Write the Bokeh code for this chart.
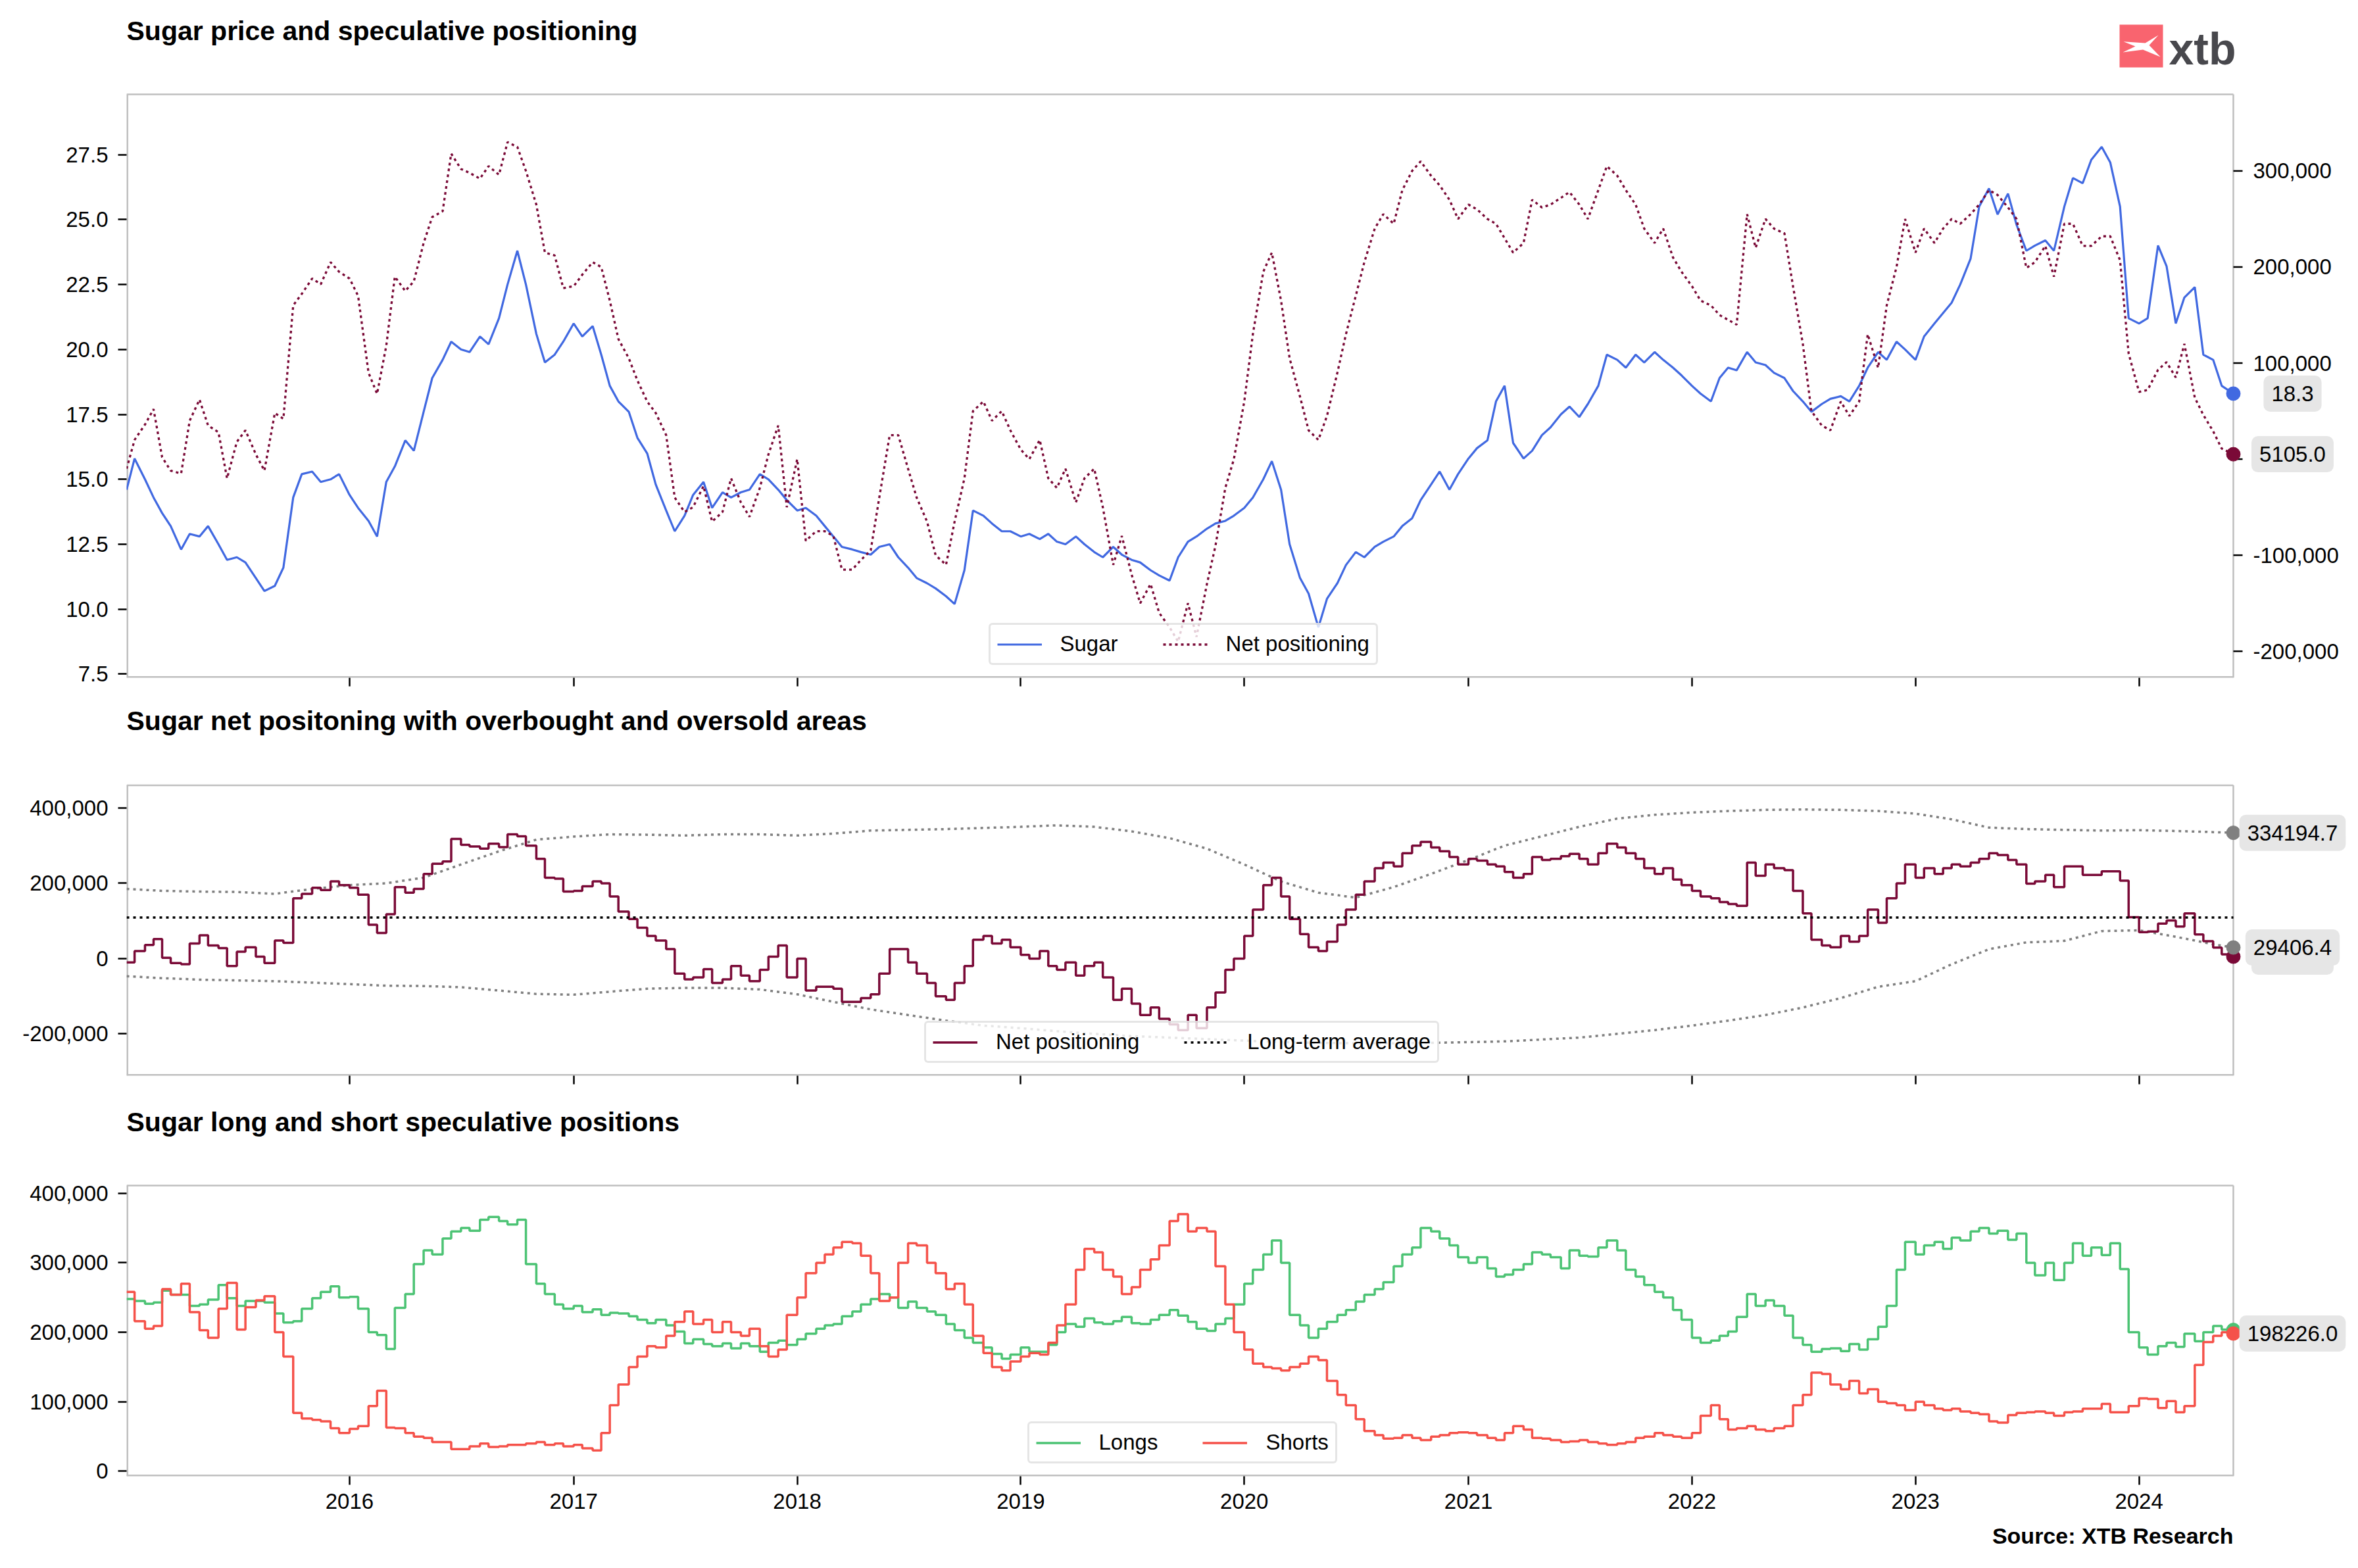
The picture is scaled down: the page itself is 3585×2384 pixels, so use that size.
import pandas as pd
from bokeh.plotting import figure
from bokeh.models import (Range1d, FixedTicker, NumeralTickFormatter, DatetimeTickFormatter,
                          Label, Title, ColumnDataSource, Legend, Rect)
from bokeh.layouts import column
from bokeh.embed import file_html
from bokeh.resources import INLINE
from bokeh.core.properties import value

# ---------------- data ----------------
# semi-monthly samples (1st and 15th of each month), last value = 2024-06-03
sugar_2015 = [14.6, 15.8, 15.0, 14.3, 13.7, 13.2, 12.3, 12.9, 12.8, 13.2, 12.5, 11.9, 12.0, 11.8, 11.2, 10.7, 10.9, 11.6, 14.3, 15.2, 15.3, 14.9, 15.0, 15.2]
sugar_2016 = [14.4, 13.9, 13.4, 12.8, 14.9, 15.5, 16.5, 16.1, 17.6, 18.9, 19.6, 20.3, 20.0, 19.9, 20.5, 20.2, 21.2, 22.5, 23.8, 22.5, 20.6, 19.5, 19.8, 20.3]
sugar_2017 = [21.0, 20.5, 20.9, 19.8, 18.6, 18.0, 17.6, 16.6, 16.0, 14.8, 13.8, 13.0, 13.6, 14.4, 14.9, 13.9, 14.5, 14.3, 14.5, 14.6, 15.2, 15.0, 14.6, 14.2]
sugar_2018 = [13.8, 13.9, 13.6, 13.2, 12.8, 12.4, 12.3, 12.2, 12.1, 12.4, 12.5, 12.0, 11.6, 11.2, 11.0, 10.8, 10.5, 10.2, 11.5, 13.8, 13.6, 13.3, 13.0, 13.0]
sugar_2019 = [12.8, 12.9, 12.7, 12.9, 12.6, 12.5, 12.8, 12.5, 12.2, 12.0, 12.4, 12.1, 11.9, 11.8, 11.5, 11.3, 11.1, 12.0, 12.6, 12.8, 13.1, 13.3, 13.4, 13.6]
sugar_2020 = [13.9, 14.3, 15.0, 15.7, 14.6, 12.5, 11.2, 10.6, 9.3, 10.4, 11.0, 11.7, 12.2, 12.0, 12.4, 12.6, 12.8, 13.2, 13.5, 14.2, 14.8, 15.3, 14.6, 15.2]
sugar_2021 = [15.8, 16.2, 16.5, 18.0, 18.6, 16.4, 15.8, 16.1, 16.7, 17.0, 17.5, 17.8, 17.4, 17.9, 18.6, 19.8, 19.6, 19.3, 19.8, 19.5, 19.9, 19.6, 19.3, 19.0]
sugar_2022 = [18.6, 18.3, 18.0, 18.9, 19.3, 19.2, 19.9, 19.5, 19.4, 19.1, 18.9, 18.4, 18.0, 17.6, 17.9, 18.1, 18.2, 18.0, 18.6, 19.3, 19.9, 19.6, 20.3, 20.0]
sugar_2023 = [19.6, 20.5, 21.0, 21.4, 21.8, 22.5, 23.5, 25.5, 26.2, 25.2, 26.0, 24.8, 23.8, 24.0, 24.2, 23.8, 25.5, 26.6, 26.4, 27.3, 27.8, 27.2, 25.5, 21.2]
sugar_2024 = [21.0, 21.2, 24.0, 23.2, 21.0, 22.0, 22.4, 19.8, 19.6, 18.6, 18.3]

net_k_2015 = [-10, 20, 36, 52, 2, -12, -15, 40, 62, 35, 28, -20, 18, 30, 5, -12, 48, 42, 160, 172, 188, 182, 205, 195]
net_k_2016 = [188, 170, 90, 68, 118, 190, 175, 185, 225, 252, 258, 318, 302, 298, 292, 305, 296, 330, 325, 300, 265, 215, 212, 178]
net_k_2017 = [180, 192, 205, 200, 165, 125, 105, 82, 60, 48, 25, -40, -55, -50, -28, -65, -55, -20, -45, -60, -30, 5, 35, -50]
net_k_2018 = [0, -85, -75, -75, -80, -115, -115, -105, -95, -40, 25, 25, -10, -40, -65, -100, -110, -65, -20, 50, 60, 40, 50, 30]
net_k_2019 = [10, 0, 20, -20, -30, -10, -45, -20, -10, -50, -110, -80, -120, -150, -130, -160, -175, -190, -150, -185, -130, -90, -30, 0]
net_k_2020 = [60, 130, 195, 215, 165, 105, 65, 30, 20, 45, 90, 130, 170, 205, 240, 255, 245, 280, 300, 310, 295, 285, 270, 250]
net_k_2021 = [265, 260, 250, 245, 230, 215, 225, 270, 262, 265, 272, 278, 265, 250, 280, 305, 295, 280, 265, 240, 225, 240, 210, 195]
net_k_2022 = [180, 165, 160, 150, 145, 140, 255, 220, 250, 240, 235, 180, 120, 50, 35, 30, 60, 45, 60, 130, 95, 160, 200, 250]
net_k_2023 = [215, 240, 225, 240, 250, 245, 255, 265, 280, 275, 262, 250, 199, 205, 222, 190, 245, 245, 222, 222, 232, 232, 207, 110]
net_k_2024 = [70, 72, 93, 101, 85, 120, 64, 46, 29, 11, 5.105]

longs_k_2015 = [248, 245, 241, 243, 260, 254, 254, 238, 240, 247, 268, 249, 238, 245, 245, 243, 227, 214, 216, 234, 249, 258, 266, 250]
longs_k_2016 = [251, 234, 200, 196, 176, 235, 255, 298, 318, 312, 335, 345, 350, 346, 362, 366, 360, 355, 362, 298, 270, 255, 240, 234]
longs_k_2017 = [238, 229, 233, 225, 228, 227, 223, 218, 213, 218, 210, 201, 184, 190, 183, 180, 184, 177, 184, 180, 172, 185, 188, 182]
longs_k_2018 = [190, 198, 205, 210, 212, 223, 230, 240, 248, 255, 250, 235, 244, 235, 230, 225, 212, 203, 192, 185, 178, 169, 162, 168]
longs_k_2019 = [178, 172, 172, 182, 200, 212, 208, 220, 214, 212, 216, 222, 213, 212, 218, 225, 232, 224, 215, 205, 202, 212, 220, 240]
longs_k_2020 = [270, 290, 312, 332, 300, 225, 210, 192, 205, 215, 225, 232, 244, 254, 262, 272, 295, 312, 322, 350, 345, 335, 325, 308]
longs_k_2021 = [300, 308, 292, 280, 283, 290, 298, 315, 312, 308, 292, 318, 310, 309, 322, 332, 318, 290, 280, 268, 258, 250, 232, 218]
longs_k_2022 = [192, 185, 188, 195, 201, 222, 255, 238, 246, 238, 224, 192, 182, 172, 176, 177, 173, 183, 175, 190, 208, 238, 290, 330]
longs_k_2023 = [312, 325, 330, 320, 336, 332, 345, 350, 342, 346, 333, 342, 300, 282, 300, 275, 300, 328, 310, 322, 311, 328, 291, 200]
longs_k_2024 = [178, 168, 180, 185, 179, 198, 187, 200, 209, 204, 203.331]

shorts_k_2015 = [258, 216, 205, 209, 262, 254, 270, 229, 203, 192, 234, 271, 204, 236, 246, 252, 200, 165, 84, 76, 74, 72, 62, 55]
shorts_k_2016 = [61, 65, 94, 116, 63, 62, 55, 50, 48, 42, 42, 32, 32, 36, 40, 35, 36, 38, 38, 40, 42, 38, 40, 36]
shorts_k_2017 = [38, 33, 30, 55, 95, 125, 150, 165, 180, 178, 195, 215, 230, 212, 218, 200, 215, 200, 195, 205, 180, 165, 175, 225]
shorts_k_2018 = [250, 285, 300, 312, 322, 330, 328, 310, 285, 245, 250, 300, 328, 325, 300, 285, 262, 270, 240, 195, 170, 150, 145, 158]
shorts_k_2019 = [165, 170, 168, 185, 210, 240, 290, 320, 315, 290, 280, 255, 265, 290, 305, 325, 360, 370, 345, 350, 345, 295, 240, 200]
shorts_k_2020 = [175, 155, 150, 148, 145, 150, 155, 165, 160, 130, 110, 95, 75, 58, 52, 47, 48, 52, 48, 45, 50, 52, 55, 56]
shorts_k_2021 = [55, 52, 48, 45, 55, 65, 60, 48, 47, 45, 42, 43, 45, 42, 40, 38, 40, 42, 48, 50, 55, 52, 50, 48]
shorts_k_2022 = [55, 80, 95, 75, 60, 62, 65, 60, 58, 62, 65, 95, 110, 142, 140, 125, 118, 130, 112, 118, 100, 98, 95, 88]
shorts_k_2023 = [100, 95, 90, 88, 90, 86, 84, 82, 72, 70, 81, 84, 85, 86, 84, 80, 85, 86, 90, 90, 97, 85, 85, 94]
shorts_k_2024 = [105, 104, 91, 101, 85, 94, 153, 186, 195, 200, 198.226]

# overbought / oversold bands: bimonthly samples (Jan, Mar, May, Jul, Sep, Nov), last = 2024-06-03
upper_k_by_year = [
    [185, 180, 178, 177, 172, 185],
    [195, 200, 215, 250, 285, 316],
    [324, 330, 329, 327, 330, 330],
    [327, 332, 340, 342, 344, 347],
    [350, 354, 350, 338, 320, 292],
    [250, 205, 175, 162, 190, 225],
    [262, 300, 325, 350, 372, 382],
    [388, 392, 395, 396, 395, 392],
    [385, 370, 348, 344, 342, 340],
    [341, 339, 336, 334.1947],
]
lower_k_by_year = [
    [-47, -52, -56, -58, -60, -64],
    [-68, -72, -73, -76, -85, -94],
    [-96, -88, -80, -78, -78, -82],
    [-95, -115, -135, -150, -165, -178],
    [-185, -193, -200, -206, -210, -214],
    [-218, -222, -224, -225, -225, -224],
    [-222, -220, -215, -210, -200, -190],
    [-178, -165, -150, -130, -105, -75],
    [-60, -15, 25, 43, 47, 73],
    [75, 58, 38, 29.4064],
]
long_term_average = 109000
year_ticks = [2016, 2017, 2018, 2019, 2020, 2021, 2022, 2023, 2024]
price_ticks = [7.5, 10, 12.5, 15, 17.5, 20, 22.5, 25, 27.5]
net_axis_ticks = [-200000, -100000, 0, 100000, 200000, 300000]
net_panel_ticks = [-200000, 0, 200000, 400000]
pos_ticks = [0, 100000, 200000, 300000, 400000]

titles = ["Sugar price and speculative positioning",
          "Sugar net positoning with overbought and oversold areas",
          "Sugar long and short speculative positions"]

# ---------------- assemble ----------------
X0 = pd.Timestamp("2015-01-02")
X1 = pd.Timestamp("2024-06-03")


def ms(t):
    return t.value / 1e6


dates = [X0]
for yy in range(2015, 2025):
    for mm in range(1, 13):
        for dd in (1, 15):
            t = pd.Timestamp(yy, mm, dd)
            if X0 < t <= pd.Timestamp("2024-05-15"):
                dates.append(t)
dates.append(X1)
date_ms = [ms(t) for t in dates]

band_dates = [X0]
for yy in range(2015, 2025):
    for mm in (1, 3, 5, 7, 9, 11):
        t = pd.Timestamp(yy, mm, 1)
        if X0 < t <= pd.Timestamp("2024-05-01"):
            band_dates.append(t)
band_dates.append(X1)
band_ms = [ms(t) for t in band_dates]

sugar = sugar_2015 + sugar_2016 + sugar_2017 + sugar_2018 + sugar_2019 + sugar_2020 + sugar_2021 + sugar_2022 + sugar_2023 + sugar_2024
net = [v * 1000 for v in net_k_2015 + net_k_2016 + net_k_2017 + net_k_2018 + net_k_2019 + net_k_2020 + net_k_2021 + net_k_2022 + net_k_2023 + net_k_2024]
longs = [v * 1000 for v in longs_k_2015 + longs_k_2016 + longs_k_2017 + longs_k_2018 + longs_k_2019 + longs_k_2020 + longs_k_2021 + longs_k_2022 + longs_k_2023 + longs_k_2024]
shorts = [v * 1000 for v in shorts_k_2015 + shorts_k_2016 + shorts_k_2017 + shorts_k_2018 + shorts_k_2019 + shorts_k_2020 + shorts_k_2021 + shorts_k_2022 + shorts_k_2023 + shorts_k_2024]
upper = [v * 1000 for row in upper_k_by_year for v in row]
lower = [v * 1000 for row in lower_k_by_year for v in row]

src = ColumnDataSource(data=dict(date=date_ms, sugar=sugar, net=net, longs=longs, shorts=shorts))
band_src = ColumnDataSource(data=dict(date=band_ms, upper=upper, lower=lower,
                                      avg=[long_term_average] * len(band_ms)))

# ---------------- geometry & styling ----------------
FONT = "Liberation Sans"
BLUE = "#4169E1"
MAROON = "#7A0A37"
GRAY = "#808080"
GREEN = "#4CC374"
RED = "#F5524A"
BOX = "#E6E6E6"
FRAME_C = "#BFBFBF"

TOTAL_W = 3577
FL = 192            # left edge of the visible axes box
VIS_W = 3203        # width of the visible axes box
FRAME_W = TOTAL_W - FL

x0, x1 = ms(X0), ms(X1)
x_span = x1 - x0
xr = Range1d(x0, x0 + FRAME_W / VIS_W * x_span)
tick_ms = [ms(pd.Timestamp(f"{y}-01-01")) for y in year_ticks]


def xpx(fig_x):
    """horizontal canvas pixel -> x data value"""
    return x0 + (fig_x - FL) / VIS_W * x_span


x_label = xpx(3485)
rect_has_radius = "border_radius" in Rect.properties()
legend_has_radius = "border_radius" in Legend.properties()


class Panel:
    def __init__(self, frame_h, vis_top, bottom, ybot, ytop):
        self.frame_h = frame_h
        self.vis_top = vis_top
        self.vis_h = frame_h - vis_top
        self.ybot, self.ytop = ybot, ytop
        top_ext = ytop + vis_top / self.vis_h * (ytop - ybot)
        self.p = figure(x_axis_type="datetime", x_range=xr, y_range=Range1d(ybot, top_ext),
                        frame_width=FRAME_W, frame_height=frame_h,
                        min_border_left=FL, min_border_right=0, min_border_top=0,
                        min_border_bottom=bottom, toolbar_location=None, output_backend="svg")
        p = self.p
        p.title.visible = False
        p.outline_line_color = None
        p.xgrid.visible = False
        p.ygrid.visible = False
        p.background_fill_color = "white"
        p.border_fill_color = "white"

    def ext(self, ybot, ytop):
        return ytop + self.vis_top / self.vis_h * (ytop - ybot)

    def ypx(self, fig_y):
        return self.ytop - (fig_y - self.vis_top) / self.vis_h * (self.ytop - self.ybot)

    def frame_box(self):
        p = self.p
        p.segment(x0=[x0, x1], y0=[self.ytop, self.ybot], x1=[x1, x1], y1=[self.ytop, self.ytop],
                  line_color=FRAME_C, line_width=2.5)
        p.segment(x0=[x0, x0], y0=[self.ybot, self.ybot], x1=[x1, x0], y1=[self.ybot, self.ytop],
                  line_color=FRAME_C, line_width=5)

    def title(self, text, baseline_y):
        self.p.add_layout(Label(x=x0, y=self.ypx(baseline_y), text=text, text_font=FONT,
                                text_font_size="41px", text_font_style="bold", text_color="black",
                                text_align="left", text_baseline="alphabetic"))


def style_axis(ax, tick_out=13, standoff=15, size="33px", color="black"):
    ax.axis_line_color = None
    ax.major_tick_line_color = "black"
    ax.major_tick_line_width = 2.5
    ax.major_tick_out = tick_out
    ax.major_tick_in = 0
    ax.minor_tick_line_color = None
    ax.major_label_text_font = FONT
    ax.major_label_text_font_size = size
    ax.major_label_text_color = color
    ax.major_label_standoff = standoff


def style_x(p, show):
    xa = p.xaxis[0]
    xa.ticker = FixedTicker(ticks=tick_ms)
    xa.formatter = DatetimeTickFormatter(years="%Y", months="%Y", days="%Y", hours="%Y", hourmin="%Y",
                                         minutes="%Y", minsec="%Y", seconds="%Y", milliseconds="%Y",
                                         microseconds="%Y")
    if show:
        style_axis(xa, tick_out=13, standoff=13)
    else:
        style_axis(xa, tick_out=13, standoff=0, size="1px", color=None)


def style_legend(p, est_width):
    lg = p.legend[0]
    lg.location = (1793.5 - FL - est_width / 2, 19)
    lg.orientation = "horizontal"
    lg.margin = 0
    lg.padding = 10
    lg.spacing = 68
    lg.glyph_width = 68
    lg.glyph_height = 37
    lg.label_height = 37
    lg.label_standoff = 28
    lg.label_text_font = FONT
    lg.label_text_font_size = "33px"
    lg.label_text_color = "black"
    lg.border_line_color = "#CCCCCC"
    lg.border_line_width = 3
    lg.background_fill_color = "white"
    lg.background_fill_alpha = 0.8
    if legend_has_radius:
        lg.border_radius = 6


CHAR_W = {".": 0.278, ",": 0.278, "-": 0.333}


def text_px(text, size=33):
    return sum(CHAR_W.get(c, 0.556) for c in text) * size


def end_label(p, y, text, y_range_name="default"):
    w = text_px(text) + 24
    r = p.rect(x=[x_label], y=[y], width=[w], height=[55], width_units="screen", height_units="screen",
               fill_color=BOX, line_color=None, y_range_name=y_range_name)
    if rect_has_radius:
        r.glyph.border_radius = 10
    p.text(x=[x_label], y=[y], text=[text], y_range_name=y_range_name, text_font=value(FONT),
           text_font_size=value("33px"), text_color="black", text_align="center", text_baseline="middle")


# ---------------- panel 1 (canvas rows 0..1058) ----------------
NET_BOT, NET_TOP = -227600, 379700
P1 = Panel(frame_h=1030, vis_top=143, bottom=28, ybot=7.36, ytop=29.82)
p1 = P1.p
p1.extra_y_ranges = {"net": Range1d(NET_BOT, P1.ext(NET_BOT, NET_TOP))}
P1.frame_box()
P1.title(titles[0], 46)
ax_l = p1.left[0]
ax_l.ticker = FixedTicker(ticks=price_ticks)
ax_l.formatter = NumeralTickFormatter(format="0.0")
style_axis(ax_l, tick_out=13, standoff=15)
style_x(p1, False)

# right-hand axis of the net positioning (drawn next to the visible box)
rt = ColumnDataSource(data=dict(y=net_axis_ticks, xa=[x1] * len(net_axis_ticks),
                                xb=[xpx(FL + VIS_W + 14)] * len(net_axis_ticks),
                                xt=[xpx(FL + VIS_W + 30)] * len(net_axis_ticks),
                                text=[f"{t:,}" for t in net_axis_ticks]))
p1.segment(x0="xa", y0="y", x1="xb", y1="y", source=rt, y_range_name="net",
           line_color="black", line_width=2.5)
p1.text(x="xt", y="y", text="text", source=rt, y_range_name="net", text_font=value(FONT),
        text_font_size=value("33px"), text_color="black", text_align="left", text_baseline="middle")

p1.line("date", "sugar", source=src, color=BLUE, line_width=3.2, legend_label="Sugar")
p1.line("date", "net", source=src, y_range_name="net", color=MAROON, line_width=3.3,
        line_dash="4 5", legend_label="Net positioning")
p1.scatter([date_ms[-1]], [sugar[-1]], size=21, color=BLUE)
p1.scatter([date_ms[-1]], [net[-1]], size=21, color=MAROON, y_range_name="net")
style_legend(p1, 582)
end_label(p1, sugar[-1], f"{sugar[-1]:.1f}")
end_label(p1, net[-1], f"{net[-1]:.1f}", "net")

# xtb logo
sq = [(3222, 37), (3288, 37), (3288, 102), (3222, 102)]
p1.patch([xpx(a) for a, b in sq], [P1.ypx(b) for a, b in sq], fill_color="#F9646F", line_color=None)
star = [(3228, 62.7), (3261, 65), (3281, 53), (3267, 68.3), (3284, 86), (3257.5, 75), (3227, 79), (3246, 70)]
p1.patch([xpx(a) for a, b in star], [P1.ypx(b) for a, b in star], fill_color="white", line_color=None)
p1.add_layout(Label(x=xpx(3297), y=P1.ypx(73), text="xtb", text_font=FONT, text_font_size="68px",
                    text_font_style="bold", text_color="#48484D", text_align="left",
                    text_baseline="alphabetic"))

# ---------------- panel 2 (canvas rows 1058..1668) ----------------
P2 = Panel(frame_h=577, vis_top=135.5, bottom=33, ybot=-311200, ytop=460300)
p2 = P2.p
P2.frame_box()
P2.title(titles[1], 37)
ax2 = p2.left[0]
ax2.ticker = FixedTicker(ticks=net_panel_ticks)
ax2.formatter = NumeralTickFormatter(format="0,0")
style_axis(ax2, tick_out=13, standoff=15)
style_x(p2, False)
p2.line("date", "upper", source=band_src, color=GRAY, line_width=3.5, line_dash="4 6")
p2.line("date", "lower", source=band_src, color=GRAY, line_width=3.5, line_dash="4 6")
p2.step("date", "net", source=src, mode="after", color=MAROON, line_width=3.5, legend_label="Net positioning")
p2.line("date", "avg", source=band_src, color="black", line_width=3.5, line_dash="4 6",
        legend_label="Long-term average")
p2.scatter([band_ms[-1]], [upper[-1]], size=21, color=GRAY)
p2.scatter([date_ms[-1]], [net[-1]], size=21, color=MAROON)
p2.scatter([band_ms[-1]], [lower[-1]], size=21, color=GRAY)
style_legend(p2, 777)
end_label(p2, net[-1], f"{net[-1]:.1f}")
end_label(p2, upper[-1], f"{upper[-1]:.1f}")
end_label(p2, lower[-1], f"{lower[-1]:.1f}")

# ---------------- panel 3 (canvas rows 1668..2383) ----------------
P3 = Panel(frame_h=576, vis_top=134, bottom=139, ybot=-7100, ytop=411100)
p3 = P3.p
P3.frame_box()
P3.title(titles[2], 37.3)
ax3 = p3.left[0]
ax3.ticker = FixedTicker(ticks=pos_ticks)
ax3.formatter = NumeralTickFormatter(format="0,0")
style_axis(ax3, tick_out=13, standoff=15)
style_x(p3, True)
p3.step("date", "longs", source=src, mode="after", color=GREEN, line_width=3.5, legend_label="Longs")
p3.step("date", "shorts", source=src, mode="after", color=RED, line_width=3.5, legend_label="Shorts")
p3.scatter([date_ms[-1]], [longs[-1]], size=21, color=GREEN)
p3.scatter([date_ms[-1]], [shorts[-1]], size=21, color=RED)
style_legend(p3, 464)
end_label(p3, shorts[-1], f"{shorts[-1]:.1f}")
src_title = Title(text="Source: XTB Research", align="right", text_font=FONT, text_font_size="34px",
                  text_font_style="bold", text_color="black", standoff=35)
src_title.offset = TOTAL_W - (FL + VIS_W)
p3.add_layout(src_title, "below")

layout = column(p1, p2, p3, spacing=0)
open("out.html", "w").write(file_html(layout, INLINE))
